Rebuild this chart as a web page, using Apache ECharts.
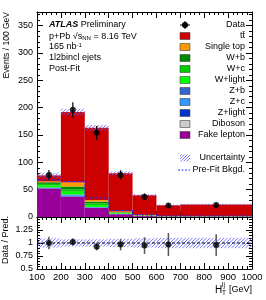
<!DOCTYPE html>
<html><head><meta charset="utf-8">
<script src="https://cdn.jsdelivr.net/npm/echarts@6/dist/echarts.min.js"></script>
<style>html,body{margin:0;padding:0;background:#fff}#c{width:266px;height:300px}</style>
</head><body><div id="c"></div>
<script>
// ---------------- data ----------------
const binEdges   = [100, 200, 300, 400, 500, 600, 700, 1000];
const binCenters = [150, 250, 350, 450, 550, 650, 850];
const dataVals   = [77, 196, 154, 77, 37, 21, 22];
const dataErr    = [9, 14, 12.5, 8.5, 6, 4.6, 4.7];

// stack components, bottom to top
const fakeLepton = [52, 37, 16.5, 5, 1.5, 0.6, 0.6];
const diboson    = [0.3, 0.5, 0.3, 0.2, 0.1, 0.05, 0.05];
const zLight     = [1.0, 1.5, 0.6, 0.3, 0.2, 0.1, 0.1];
const zC         = [0.4, 1.0, 0.4, 0.2, 0.1, 0.05, 0.05];
const zB         = [0.4, 1.2, 0.5, 0.2, 0.1, 0.05, 0.05];
const wLight     = [3.5, 5, 3.5, 1, 0.4, 0.2, 0.2];
const wC         = [3, 4.5, 3, 0.8, 0.3, 0.15, 0.15];
const wB         = [3, 5, 3.5, 1, 0.3, 0.15, 0.15];
const singleTop  = [1.5, 7.3, 3, 1.5, 0.8, 0.4, 0.4];
const ttbar      = [11, 129, 132, 70, 36, 19.7, 21.2];

const totalUnc   = [5, 6, 5, 3.5, 2, 1.3, 1.3];
const prefitBkg  = [68, 65, 35, 12, 4, 2, 2];

const ratioVals  = [1.0, 1.02, 0.93, 0.97, 0.95, 0.97, 0.96];
const ratioErr   = [0.12, 0.07, 0.07, 0.11, 0.16, 0.22, 0.21];
const ratioUnc   = [0.09, 0.07, 0.07, 0.08, 0.09, 0.1, 0.1];
const ratioTickLabels = ['1.25', '1', '0.75', '0.5'];

const legendLabels = ['Data', 'tt\u0304', 'Single top', 'W+b', 'W+c', 'W+light', 'Z+b', 'Z+c', 'Z+light', 'Diboson', 'Fake lepton', 'Uncertainty', 'Pre-Fit Bkgd.'];

// ---------------- styling ----------------
const FONT = '"Liberation Sans", Arial, Helvetica, sans-serif';
const HATCH_COLOR = 'rgb(105,105,255)';
const comps = [
  {name:'Fake lepton', vals:fakeLepton, color:'#990099'},
  {name:'Diboson',     vals:diboson,    color:'#cccccc'},
  {name:'Z+light',     vals:zLight,     color:'#0033cc'},
  {name:'Z+c',         vals:zC,         color:'#3399ff'},
  {name:'Z+b',         vals:zB,         color:'#3366cc'},
  {name:'W+light',     vals:wLight,     color:'#00ff00'},
  {name:'W+c',         vals:wC,         color:'#00cc00'},
  {name:'W+b',         vals:wB,         color:'#008800'},
  {name:'Single top',  vals:singleTop,  color:'#ff9900'},
  {name:'tt\u0304',    vals:ttbar,      color:'#cc0000'}
];

function hatchLines(x0, y0, x1, y1, s){
  const out = [];
  const cStart = Math.ceil((x0 + y0) / s) * s;
  for (let c = cStart; c <= x1 + y1; c += s) {
    const xa = Math.max(x0, c - y1), xb = Math.min(x1, c - y0);
    if (xb <= xa) continue;
    out.push({type:'line', silent:true, shape:{x1:xa, y1:c - xa, x2:xb, y2:c - xb},
      style:{stroke:HATCH_COLOR, lineWidth:0.9}});
  }
  return out;
}

const total = binCenters.map((_, i) => comps.reduce((s, c) => s + c.vals[i], 0));

function stackSeries(k){
  const comp = comps[k];
  return {
    type:'custom', xAxisIndex:0, yAxisIndex:0, name:comp.name,
    data: binCenters.map((c, i) => [c, comp.vals[i]]),
    renderItem: (params, api) => {
      const i = params.dataIndex;
      let lo = 0; for (let j = 0; j < k; j++) lo += comps[j].vals[i];
      const hi = lo + comp.vals[i];
      const a = api.coord([binEdges[i], hi]);
      const b = api.coord([binEdges[i+1], lo]);
      return {type:'rect', shape:{x:a[0], y:a[1], width:b[0]-a[0], height:b[1]-a[1]}, style:{fill:comp.color}};
    }
  };
}

const series = [];
comps.forEach((_, k) => series.push(stackSeries(k)));
series.push({
  type:'custom', xAxisIndex:0, yAxisIndex:0,
  data: binCenters.map((c, i) => [c, total[i]]),
  renderItem: (params, api) => {
    const i = params.dataIndex;
    const a = api.coord([binEdges[i], total[i] + totalUnc[i]]);
    const b = api.coord([binEdges[i+1], total[i] - totalUnc[i]]);
    return {type:'group', children:hatchLines(a[0], a[1], b[0], b[1], 3.5)};
  }
});
series.push({
  type:'custom', xAxisIndex:0, yAxisIndex:0,
  data: [[binCenters[0], prefitBkg[0]]],
  renderItem: (params, api) => {
    const pts = [];
    for (let i = 0; i < prefitBkg.length; i++) {
      pts.push(api.coord([binEdges[i], prefitBkg[i]]));
      pts.push(api.coord([binEdges[i+1], prefitBkg[i]]));
    }
    return {type:'polyline', shape:{points:pts}, style:{stroke:'#2233ff', lineWidth:1, lineDash:[2,1.5], fill:null}};
  }
});
series.push({
  type:'custom', xAxisIndex:0, yAxisIndex:0,
  data: binCenters.map((c, i) => [c, dataVals[i]]),
  renderItem: (params, api) => {
    const i = params.dataIndex;
    const a = api.coord([binCenters[i], dataVals[i] - dataErr[i]]);
    const b = api.coord([binCenters[i], dataVals[i] + dataErr[i]]);
    return {type:'line', shape:{x1:a[0], y1:a[1], x2:b[0], y2:b[1]}, style:{stroke:'#000', lineWidth:1.2}};
  }
});
series.push({
  type:'scatter', xAxisIndex:0, yAxisIndex:0, symbol:'circle', symbolSize:6,
  itemStyle:{color:'#000'}, data: binCenters.map((c, i) => [c, dataVals[i]])
});
series.push({
  type:'custom', xAxisIndex:2, yAxisIndex:2,
  data: binCenters.map((c, i) => [c, 1]),
  renderItem: (params, api) => {
    const i = params.dataIndex;
    const a = api.coord([binEdges[i], 1 + ratioUnc[i]]);
    const b = api.coord([binEdges[i+1], 1 - ratioUnc[i]]);
    return {type:'group', children:hatchLines(a[0], a[1], b[0], b[1], 3.5)};
  }
});
series.push({
  type:'custom', xAxisIndex:2, yAxisIndex:2,
  data: [[binEdges[0], 1]],
  renderItem: (params, api) => {
    const a = api.coord([binEdges[0], 1]);
    const b = api.coord([binEdges[binEdges.length-1], 1]);
    return {type:'line', shape:{x1:a[0], y1:a[1], x2:b[0], y2:b[1]}, style:{stroke:'#000', lineWidth:1, lineDash:[3,2]}};
  }
});
series.push({
  type:'custom', xAxisIndex:2, yAxisIndex:2,
  data: binCenters.map((c, i) => [c, ratioVals[i]]),
  renderItem: (params, api) => {
    const i = params.dataIndex;
    const a = api.coord([binCenters[i], ratioVals[i] - ratioErr[i]]);
    const b = api.coord([binCenters[i], ratioVals[i] + ratioErr[i]]);
    return {type:'line', shape:{x1:a[0], y1:a[1], x2:b[0], y2:b[1]}, style:{stroke:'#555', lineWidth:1.5}};
  }
});
series.push({
  type:'scatter', xAxisIndex:2, yAxisIndex:2, symbol:'circle', symbolSize:6,
  itemStyle:{color:'#000'}, data: binCenters.map((c, i) => [c, ratioVals[i]])
});

// ---------------- axes ----------------
const lineStyle = {color:'#000', width:1};
function xAx(grid, pos, labels){
  return {
    type:'value', gridIndex:grid, position:pos, min:100, max:1000, interval:100,
    axisLine:{show:true, onZero:false, lineStyle},
    axisTick:{show:true, inside:true, length:6, lineStyle},
    minorTick:{show:true, splitNumber:5, length:3, lineStyle},
    splitLine:{show:false}, minorSplitLine:{show:false},
    axisLabel:{show:labels, margin:3, color:'#000', fontSize:9.5, fontFamily:FONT, formatter:v => String(v)}
  };
}
function yAx(grid, pos, labels, min, max, interval, split){
  return {
    type:'value', gridIndex:grid, position:pos, min, max, interval,
    axisLine:{show:true, onZero:false, lineStyle},
    axisTick:{show:true, inside:true, length:6, lineStyle},
    minorTick:{show:true, splitNumber:split, length:3, lineStyle},
    splitLine:{show:false}, minorSplitLine:{show:false},
    axisLabel:{show:labels, margin:4, color:'#000', fontSize:9, fontFamily:FONT, showMaxLabel:false}
  };
}

// ---------------- legend & text ----------------
const graphic = [];
const LX = 185, LR = 245;
const legendY = [25, 36, 47, 58, 69, 80, 91, 102, 113, 124, 135, 158, 170];
const txt = (x, y, text, align, size) => ({type:'text', x, y, silent:true,
  style:{text, fill:'#000', fontSize:size || 9, fontFamily:FONT, align:align, verticalAlign:'middle'}});
legendLabels.forEach((lab, k) => {
  const y = legendY[k];
  graphic.push(txt(LR, y, lab, 'right'));
  if (k === 0) {
    graphic.push({type:'line', shape:{x1:LX-5, y1:y, x2:LX+5, y2:y}, style:{stroke:'#000', lineWidth:1}});
    graphic.push({type:'line', shape:{x1:LX, y1:y-4, x2:LX, y2:y+4}, style:{stroke:'#000', lineWidth:1}});
    graphic.push({type:'circle', shape:{cx:LX, cy:y, r:3}, style:{fill:'#000'}});
  } else if (k <= 10) {
    const comp = comps[comps.length - k];
    graphic.push({type:'rect', shape:{x:LX-5, y:y-3.5, width:10, height:7}, style:{fill:comp.color, stroke:'#444', lineWidth:0.6}});
  } else if (k === 11) {
    graphic.push({type:'group', children:hatchLines(LX-5, y-3.5, LX+5, y+3.5, 3)});
  } else {
    graphic.push({type:'line', shape:{x1:LX-7, y1:y, x2:LX+5, y2:y}, style:{stroke:'#2233ff', lineWidth:1, lineDash:[2,1.5]}});
  }
});
graphic.push({type:'text', x:49, y:25, silent:true, style:{
  text:'{b|ATLAS} Preliminary', fill:'#000', fontSize:9, fontFamily:FONT, verticalAlign:'middle',
  rich:{b:{fontWeight:'bold', fontStyle:'italic', fontSize:9, fontFamily:FONT}}}});
graphic.push({type:'text', x:49, y:37, silent:true, style:{
  text:'p+Pb \u221a{o|s}{s|NN} = 8.16 TeV', fill:'#000', fontSize:9, fontFamily:FONT, verticalAlign:'middle',
  rich:{o:{fontSize:9, fontFamily:FONT}, s:{fontSize:6, fontFamily:FONT, verticalAlign:'bottom', padding:[3,0,0,0]}}}});
graphic.push({type:'text', x:49, y:47, silent:true, style:{
  text:'165 nb{s|-1}', fill:'#000', fontSize:9, fontFamily:FONT, verticalAlign:'middle',
  rich:{s:{fontSize:6, fontFamily:FONT, verticalAlign:'top', padding:[0,0,3,0]}}}});
graphic.push(txt(49, 58, '1l2bincl ejets', 'left'));
graphic.push(txt(49, 69, 'Post-Fit', 'left'));
graphic.push({type:'text', x:7, y:12, rotation:Math.PI/2, silent:true,
  style:{text:'Events / 100 GeV', fill:'#000', fontSize:8.5, fontFamily:FONT, align:'right', verticalAlign:'middle'}});
graphic.push({type:'text', x:6, y:240, rotation:Math.PI/2, silent:true,
  style:{text:'Data / Pred.', fill:'#000', fontSize:9, fontFamily:FONT, align:'center', verticalAlign:'middle'}});
graphic.push(txt(215, 290, 'H', 'left', 10));
graphic.push(txt(222, 285, 'lj', 'left', 6.5));
graphic.push(txt(222, 293, 'T', 'left', 6.5));
graphic.push(txt(252, 290, '[GeV]', 'right', 9));

const option = {
  animation:false,
  backgroundColor:'#fff',
  textStyle:{fontFamily:FONT},
  grid:[
    {left:37, right:14, top:12, height:205},
    {left:37, right:14, top:217, height:52}
  ],
  xAxis:[xAx(0,'bottom',false), xAx(0,'top',false), xAx(1,'bottom',true), xAx(1,'top',false)],
  yAxis:[yAx(0,'left',true,0,375,50,5), yAx(0,'right',false,0,375,50,5),
         yAx(1,'left',false,0.5,1.5,0.25,5), yAx(1,'right',false,0.5,1.5,0.25,5)],
  series,
  graphic
};
const chart = echarts.init(document.getElementById('c'), null, {renderer:'canvas', width:266, height:300});
chart.setOption(option);
// ratio tick labels: one multi-line text block whose line pitch comes from the ratio axis scale
const yTop = chart.convertToPixel({yAxisIndex:2}, parseFloat(ratioTickLabels[0]));
const yBot = chart.convertToPixel({yAxisIndex:2}, parseFloat(ratioTickLabels[ratioTickLabels.length-1]));
const pitch = (yBot - yTop) / (ratioTickLabels.length - 1);
graphic.push({type:'text', x:33, y:(yTop + yBot) / 2, silent:true, z:50,
  style:{text:ratioTickLabels.join('\n'), fill:'#000', fontSize:9, lineHeight:pitch, fontFamily:FONT,
         align:'right', verticalAlign:'middle'}});
chart.setOption({graphic});
</script>
</body></html>
